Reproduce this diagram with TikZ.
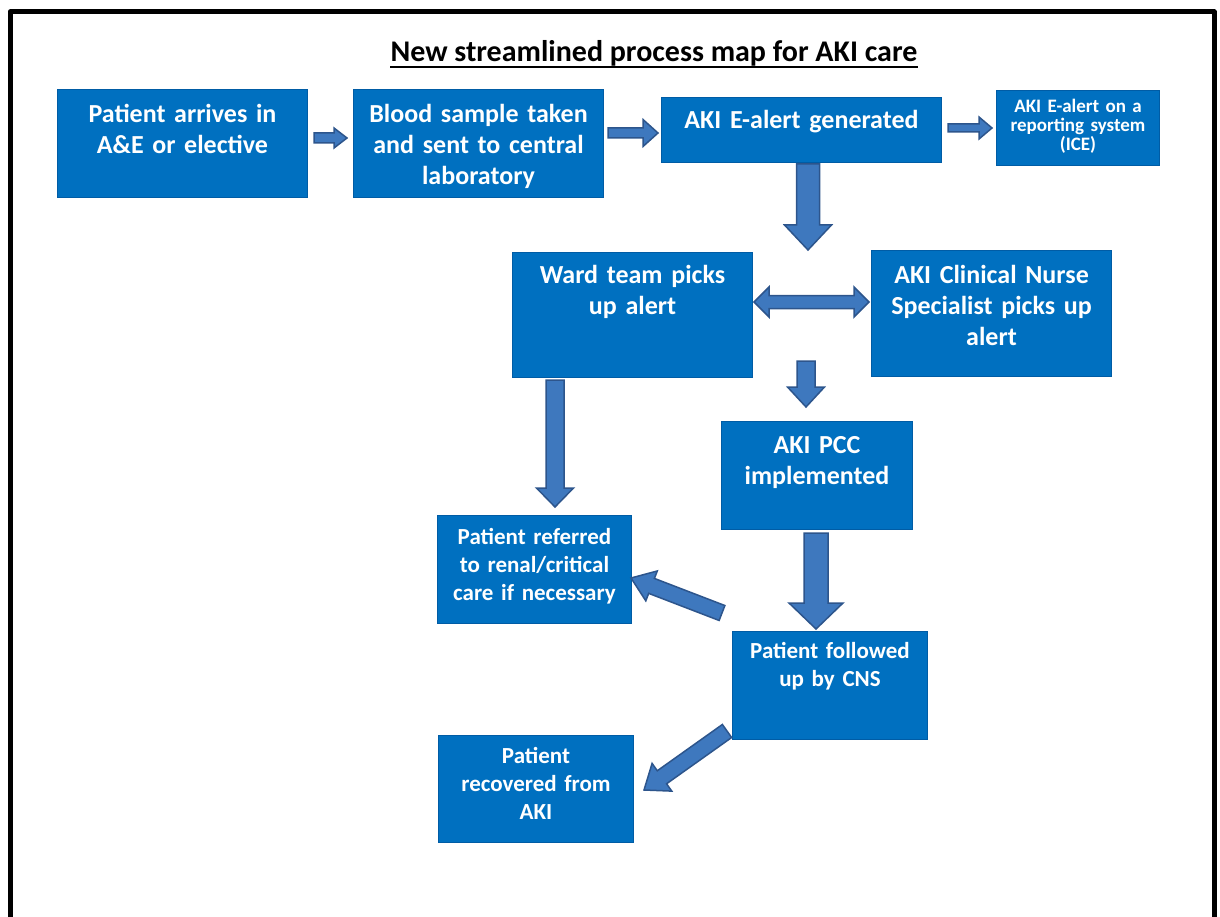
\documentclass[tikz,border=0pt]{standalone}
\usepackage{fontspec}
\setmainfont{Carlito}
\usetikzlibrary{calc}
\definecolor{boxblue}{RGB}{0,112,192}
\definecolor{boxline}{RGB}{0,92,165}
\definecolor{arrowfill}{RGB}{62,120,190}
\definecolor{arrowline}{RGB}{45,85,140}
% block arrow: from, to, half shaft, half head, head length
\newcommand{\blockarrow}[5]{%
  \coordinate (hb) at ($(#2)!#5!(#1)$);
  \draw[arrowshape] ($(#1)!#3!90:(#2)$) -- ($(hb)!#3!90:(#2)$) -- ($(hb)!#4!90:(#2)$) -- (#2)
    -- ($(hb)!#4!-90:(#2)$) -- ($(hb)!#3!-90:(#2)$) -- ($(#1)!#3!-90:(#2)$) -- cycle;
}
% block arrow with two heads
\newcommand{\dblockarrow}[5]{%
  \coordinate (ha) at ($(#1)!#5!(#2)$);
  \coordinate (hb) at ($(#2)!#5!(#1)$);
  \draw[arrowshape] (#1) -- ($(ha)!#4!90:(#2)$) -- ($(ha)!#3!90:(#2)$) -- ($(hb)!#3!90:(#2)$)
    -- ($(hb)!#4!90:(#2)$) -- (#2) -- ($(hb)!#4!-90:(#2)$) -- ($(hb)!#3!-90:(#2)$)
    -- ($(ha)!#3!-90:(#2)$) -- ($(ha)!#4!-90:(#2)$) -- cycle;
}
\begin{document}
\begin{tikzpicture}[x=1pt,y=-1pt,
    box/.style={fill=boxblue, draw=boxline, line width=1pt, text=white, inner sep=0pt,
      align=center, anchor=north west, font=\bfseries\fontsize{26}{31}\selectfont},
    midtext/.style={font=\bfseries\fontsize{23}{28}\selectfont},
    smalltext/.style={font=\bfseries\fontsize{19}{19}\selectfont},
    arrowshape/.style={fill=arrowfill, draw=arrowline, line width=1.5pt, line join=miter}]
  \useasboundingbox (0,0) rectangle (1220,917);
  % frame and title
  \draw[line width=5pt, line join=round] (10,917) -- (10,12) -- (1214,12) -- (1214,917);
  \node[inner sep=0pt, anchor=base, font=\bfseries\fontsize{30}{34}\selectfont] (title) at (654,62)
    {New streamlined process map for AKI care};
  \draw[line width=1.6pt] ([yshift=-5pt]title.base west) -- ([yshift=-5pt]title.base east);
  % boxes
  \node[box, text width=250pt, text height=33pt, text depth=75pt] (arrive) at (57,89)
    {Patient arrives in\\A\&E or elective};
  \node[box, text width=250pt, text height=33pt, text depth=75pt] (blood) at (353,89)
    {Blood sample taken\\and sent to central\\laboratory};
  \node[box, text width=280pt, text height=31pt, text depth=34pt] (ealert) at (661,97)
    {AKI E-alert generated};
  \node[box, smalltext, text width=163pt, text height=22pt, text depth=53pt] (ice) at (996,90)
    {AKI E-alert on a\\reporting system\\(ICE)};
  \node[box, text width=240pt, text height=31pt, text depth=94pt] (ward) at (512,252)
    {Ward team picks\\up alert};
  \node[box, text width=240pt, text height=33pt, text depth=93pt] (nurse) at (871,250)
    {AKI Clinical Nurse\\Specialist picks up\\alert};
  \node[box, text width=191pt, text height=32pt, text depth=76pt] (pcc) at (721,421)
    {AKI PCC\\implemented};
  \node[box, midtext, text width=194pt, text height=29pt, text depth=79pt] (referred) at (437,515)
    {Patient referred\\to renal/critical\\care if necessary};
  \node[box, midtext, text width=195pt, text height=27pt, text depth=81pt] (followed) at (732,631)
    {Patient followed\\up by CNS};
  \node[box, midtext, text width=195pt, text height=28pt, text depth=79pt] (recovered) at (438,735)
    {Patient\\recovered from\\AKI};
  % arrow ends
  \coordinate (a1) at (314,138);  \coordinate (b1) at (347,138);
  \coordinate (a2) at (608,133);  \coordinate (b2) at (658,133);
  \coordinate (a3) at (948,128);  \coordinate (b3) at (992,128);
  \coordinate (a4) at (808,164);  \coordinate (b4) at (808,250);
  \coordinate (a5) at (754,302);  \coordinate (b5) at (869,302);
  \coordinate (a6) at (806,361);  \coordinate (b6) at (806,407);
  \coordinate (a7) at (555,380);  \coordinate (b7) at (555,507);
  \coordinate (a8) at (816,533);  \coordinate (b8) at (816,629);
  \coordinate (a9) at (722,613);  \coordinate (b9) at (631,578);
  \coordinate (a10) at (727,731); \coordinate (b10) at (644,790);
  % arrows
  \blockarrow{a1}{b1}{5pt}{10pt}{13pt}
  \blockarrow{a2}{b2}{5pt}{13.5pt}{15pt}
  \blockarrow{a3}{b3}{4pt}{11pt}{13pt}
  \blockarrow{a4}{b4}{11.5pt}{23.5pt}{25pt}
  \dblockarrow{a5}{b5}{6.5pt}{15pt}{15pt}
  \blockarrow{a6}{b6}{9pt}{18.5pt}{20pt}
  \blockarrow{a7}{b7}{9pt}{18.5pt}{19pt}
  \blockarrow{a8}{b8}{12pt}{27pt}{26pt}
  \blockarrow{a9}{b9}{8pt}{16pt}{22pt}
  \blockarrow{a10}{b10}{8pt}{17pt}{22pt}
\end{tikzpicture}
\end{document}
